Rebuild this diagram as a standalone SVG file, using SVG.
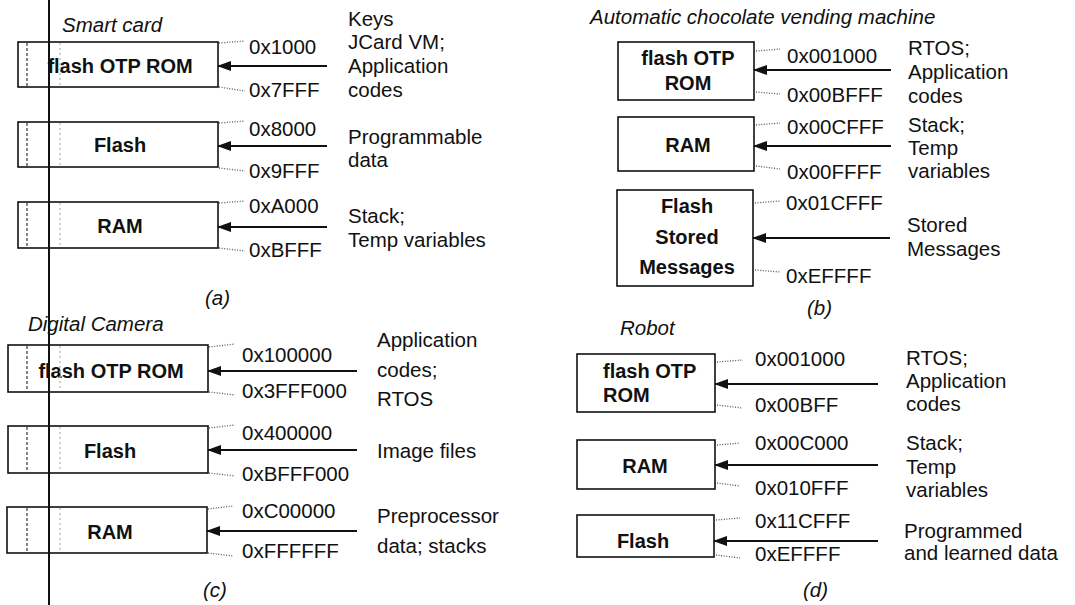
<svg xmlns="http://www.w3.org/2000/svg" width="1075" height="605" viewBox="0 0 1075 605">
<style>
text{font-family:"Liberation Sans",Arial,sans-serif;fill:#111}
.t{font-size:20.5px;font-style:italic}
.h{font-size:20.5px}
.d{font-size:20.5px}
.b{font-size:20px;font-weight:bold;text-anchor:middle}
.bl{font-size:20px;font-weight:bold}
.box{fill:#fff;stroke:#111;stroke-width:1.6}
.arr{stroke:#111;stroke-width:1.8;fill:none;marker-end:url(#ah)}
.dot{stroke:#555;stroke-width:1.3;stroke-dasharray:1 1.6;fill:none}
.scan{stroke:#666;stroke-width:1.6;stroke-dasharray:3 2;fill:none}
.scan2{stroke:#bbb;stroke-width:1.4;stroke-dasharray:2 3;fill:none}
</style>
<defs>
<marker id="ah" markerUnits="userSpaceOnUse" markerWidth="14" markerHeight="10" refX="13" refY="5" orient="auto">
<path d="M0,0 L14,5 L0,10 z" fill="#111"/>
</marker>
</defs>
<rect width="1075" height="605" fill="#fff"/>

<!-- (a) Smart card -->
<g id="panel-a">
<text class="t" x="62" y="32">Smart card</text>
<g id="a-rom"><rect class="box" x="18" y="42" width="200" height="45"/><text class="b" x="120" y="73">flash OTP ROM</text></g>
<g id="a-flash"><rect class="box" x="18" y="122" width="200" height="45"/><text class="b" x="120" y="152">Flash</text></g>
<g id="a-ram"><rect class="box" x="18" y="202" width="200" height="46"/><text class="b" x="120" y="233">RAM</text></g>
<g id="a-labels">
<text class="h" x="249" y="54">0x1000</text>
<text class="h" x="249" y="97">0x7FFF</text>
<text class="h" x="249" y="136">0x8000</text>
<text class="h" x="249" y="178">0x9FFF</text>
<text class="h" x="249" y="213">0xA000</text>
<text class="h" x="249" y="257">0xBFFF</text>
<text class="d" x="348" y="26">Keys</text>
<text class="d" x="348" y="49">JCard VM;</text>
<text class="d" x="348" y="73">Application</text>
<text class="d" x="348" y="97">codes</text>
<text class="d" x="348" y="144">Programmable</text>
<text class="d" x="348" y="167">data</text>
<text class="d" x="348" y="223">Stack;</text>
<text class="d" x="348" y="247">Temp variables</text>
<text class="t" x="205" y="305">(a)</text>
</g>
</g>

<!-- (b) Vending machine -->
<g id="panel-b">
<text class="t" x="590" y="24">Automatic chocolate vending machine</text>
<g id="b-rom"><rect class="box" x="618" y="42" width="136" height="58"/><text class="b" x="688" y="65">flash OTP</text><text class="b" x="688" y="90">ROM</text></g>
<g id="b-ram"><rect class="box" x="618" y="117" width="136" height="54"/><text class="b" x="688" y="152">RAM</text></g>
<g id="b-flash"><rect class="box" x="617" y="190" width="136" height="96"/><text class="b" x="687" y="213">Flash</text><text class="b" x="687" y="244">Stored</text><text class="b" x="687" y="274">Messages</text></g>
<g id="b-labels">
<text class="h" x="787" y="63">0x001000</text>
<text class="h" x="787" y="102">0x00BFFF</text>
<text class="h" x="787" y="134">0x00CFFF</text>
<text class="h" x="787" y="179">0x00FFFF</text>
<text class="h" x="786" y="210">0x01CFFF</text>
<text class="h" x="786" y="283">0xEFFFF</text>
<text class="d" x="908" y="55">RTOS;</text>
<text class="d" x="908" y="79">Application</text>
<text class="d" x="908" y="103">codes</text>
<text class="d" x="908" y="132">Stack;</text>
<text class="d" x="908" y="155">Temp</text>
<text class="d" x="908" y="178">variables</text>
<text class="d" x="907" y="232">Stored</text>
<text class="d" x="907" y="256">Messages</text>
<text class="t" x="807" y="315">(b)</text>
</g>
</g>

<!-- (c) Digital camera -->
<g id="panel-c">
<text class="t" x="28" y="331">Digital Camera</text>
<g id="c-rom"><rect class="box" x="8" y="345" width="200" height="47"/><text class="b" x="111" y="378">flash OTP ROM</text></g>
<g id="c-flash"><rect class="box" x="8" y="426" width="200" height="47"/><text class="b" x="110" y="458">Flash</text></g>
<g id="c-ram"><rect class="box" x="7" y="507" width="200" height="46"/><text class="b" x="110" y="539">RAM</text></g>
<g id="c-labels">
<text class="h" x="242" y="362">0x100000</text>
<text class="h" x="242" y="398">0x3FFF000</text>
<text class="h" x="242" y="440">0x400000</text>
<text class="h" x="242" y="481">0xBFFF000</text>
<text class="h" x="242" y="518">0xC00000</text>
<text class="h" x="242" y="558">0xFFFFFF</text>
<text class="d" x="377" y="347">Application</text>
<text class="d" x="377" y="377">codes;</text>
<text class="d" x="377" y="406">RTOS</text>
<text class="d" x="377" y="458">Image files</text>
<text class="d" x="377" y="523">Preprocessor</text>
<text class="d" x="377" y="553">data; stacks</text>
<text class="t" x="203" y="597">(c)</text>
</g>
</g>

<!-- (d) Robot -->
<g id="panel-d">
<text class="t" x="620" y="335">Robot</text>
<g id="d-rom"><rect class="box" x="577" y="354" width="138" height="58"/><text class="bl" x="603" y="378">flash OTP</text><text class="bl" x="603" y="402">ROM</text></g>
<g id="d-ram"><rect class="box" x="577" y="440" width="138" height="49"/><text class="b" x="645" y="473">RAM</text></g>
<g id="d-flash"><rect class="box" x="577" y="515" width="137" height="42"/><text class="b" x="643" y="548">Flash</text></g>
<g id="d-labels">
<text class="h" x="755" y="366">0x001000</text>
<text class="h" x="755" y="412">0x00BFF</text>
<text class="h" x="755" y="450">0x00C000</text>
<text class="h" x="755" y="495">0x010FFF</text>
<text class="h" x="755" y="528">0x11CFFF</text>
<text class="h" x="755" y="561">0xEFFFF</text>
<text class="d" x="906" y="365">RTOS;</text>
<text class="d" x="906" y="388">Application</text>
<text class="d" x="906" y="411">codes</text>
<text class="d" x="906" y="450">Stack;</text>
<text class="d" x="906" y="474">Temp</text>
<text class="d" x="906" y="497">variables</text>
<text class="d" x="904" y="538">Programmed</text>
<text class="d" x="904" y="560">and learned data</text>
<text class="t" x="803" y="597">(d)</text>
</g>
</g>

<!-- connectors -->
<g id="connectors">
<line class="arr" x1="327" y1="66" x2="218" y2="66"/>
<line class="arr" x1="327" y1="146" x2="218" y2="146"/>
<line class="arr" x1="327" y1="227" x2="218" y2="227"/>
<line class="arr" x1="891" y1="70" x2="754" y2="70"/>
<line class="arr" x1="891" y1="146" x2="754" y2="146"/>
<line class="arr" x1="890" y1="238" x2="753" y2="238"/>
<line class="arr" x1="357" y1="371" x2="208" y2="371"/>
<line class="arr" x1="357" y1="450" x2="208" y2="450"/>
<line class="arr" x1="357" y1="531" x2="207" y2="531"/>
<line class="arr" x1="878" y1="384" x2="715" y2="384"/>
<line class="arr" x1="878" y1="465" x2="715" y2="465"/>
<line class="arr" x1="878" y1="541" x2="714" y2="541"/>

<path class="dot" d="M219,43 L245,41 M219,87 L245,91 M219,123 L245,121 M219,168 L245,171 M219,203 L245,201 M219,248 L245,251"/>
<path class="dot" d="M756,51 L780,49 M756,92 L780,94 M756,125 L780,123 M756,166 L780,169 M755,203 L780,201 M755,270 L780,272"/>
<path class="dot" d="M209,347 L235,344 M209,392 L235,395 M209,428 L235,425 M209,473 L235,476 M208,509 L233,506 M208,553 L233,556"/>
<path class="dot" d="M717,362 L742,360 M717,405 L742,408 M717,445 L740,443 M717,483 L740,486 M716,520 L740,518 M716,555 L740,558"/>
</g>

<!-- scan marks -->
<g id="scan">
<path class="scan" d="M27,43 V86 M27,123 V166 M27,203 V247 M27,346 V391 M27,427 V472 M27,508 V552"/>
<path class="scan2" d="M60,43 V86 M60,123 V166 M60,203 V247 M60,346 V391 M60,427 V472 M60,508 V552"/>
<line x1="49" y1="0" x2="49" y2="605" stroke="#111" stroke-width="2"/>
</g>
</svg>
